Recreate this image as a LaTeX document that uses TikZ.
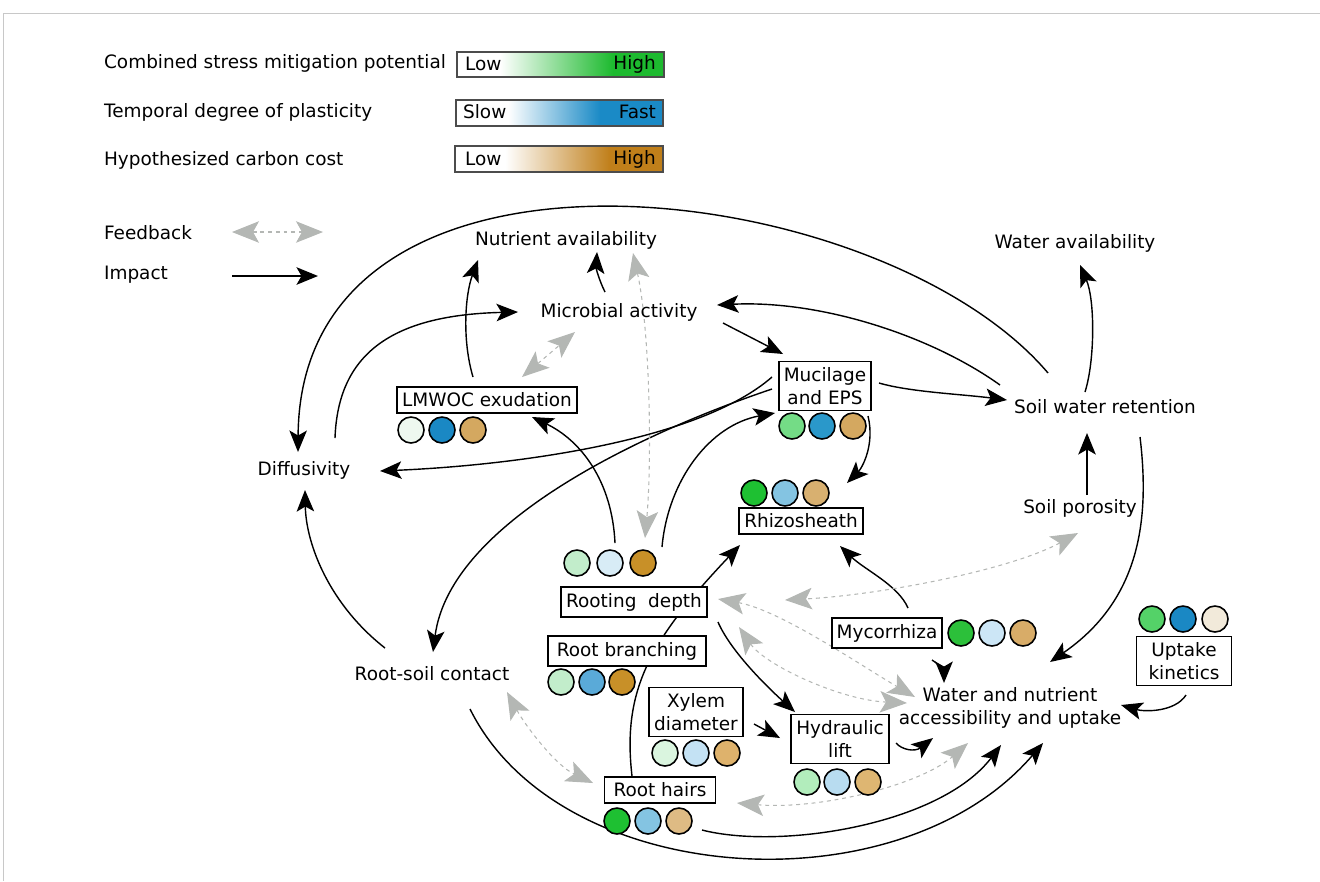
\documentclass[tikz,border=0pt]{standalone}
\usepackage{fontspec}
\setmainfont{DejaVu Sans}
\usetikzlibrary{arrows.meta,backgrounds}

\definecolor{barG}{HTML}{1DBA2F}
\definecolor{barB}{HTML}{1A8AC6}
\definecolor{barC}{HTML}{C07F1A}
\definecolor{fbgray}{HTML}{B4B7B4}
\definecolor{framegray}{HTML}{C8C8C8}

\tikzset{
  txt/.style={font=\fontsize{10.5}{12.8}\selectfont, inner sep=1pt, align=center},
  box/.style={txt, draw, line width=1pt, fill=white, inner xsep=2.8pt, inner ysep=3.5pt},
  dot/.style={circle, draw, line width=0.9pt, minimum size=5.2mm, inner sep=0pt},
  hx/.code={\definecolor{tmpfill}{HTML}{#1}\pgfkeysalso{fill=tmpfill}},
  imp/.style={line width=0.8pt, -{Stealth[length=4.3mm,width=3.5mm,inset=1mm]}},
  fbk/.style={draw=fbgray, line width=0.6pt, dash pattern=on 2.2pt off 2.2pt,
    {Stealth[length=5.4mm,width=4.3mm,inset=1.2mm,fbgray]}-{Stealth[length=5.4mm,width=4.3mm,inset=1.2mm,fbgray]}},
  barline/.style={draw=black!70, line width=0.6pt}
}

\begin{document}
\begin{tikzpicture}[x=0.2mm, y=-0.2mm]
\useasboundingbox (0,0) rectangle (1320,881);

%% frame
\draw[framegray, line width=0.5pt] (3,881) -- (3,13) -- (1320,13);

%% legend: colour bars
\fill[white] (457,52) rectangle (500,77);
\shade[left color=white, right color=barG] (500,52) rectangle (613,77);
\fill[barG] (613,52) rectangle (664,77);
\draw[barline] (457,52) rectangle (664,77);
\fill[white] (456,100) rectangle (508,126);
\shade[left color=white, right color=barB] (508,100) rectangle (600,126);
\fill[barB] (600,100) rectangle (663,126);
\draw[barline] (456,100) rectangle (663,126);
\fill[white] (455,146) rectangle (505,172);
\shade[left color=white, right color=barC] (505,146) rectangle (610,172);
\fill[barC] (610,146) rectangle (663,172);
\draw[barline] (455,146) rectangle (663,172);

%% legend: texts
\node[txt, anchor=west] (legG) at (102,63) {Combined stress mitigation potential};
\node[txt, anchor=west] (legB) at (102,112) {Temporal degree of plasticity};
\node[txt, anchor=west] (legC) at (102,160) {Hypothesized carbon cost};
\node[txt, anchor=west] (lowG) at (463,64) {Low};
\node[txt, anchor=east] (highG) at (658,64) {High};
\node[txt, anchor=west] (slowB) at (461,112) {Slow};
\node[txt, anchor=east] (fastB) at (658,112) {Fast};
\node[txt, anchor=west] (lowC) at (463,159) {Low};
\node[txt, anchor=east] (highC) at (658,159) {High};
\node[txt, anchor=west] (legF) at (102,233) {Feedback};
\node[txt, anchor=west] (legI) at (102,275) {Impact};
\coordinate (fbL) at (232,232);
\coordinate (fbR) at (323,232);
\coordinate (imL) at (232,276);
\coordinate (imR) at (318,276);

%% plain labels
\node[txt] (nut) at (566,240) {Nutrient availability};
\node[txt] (mic) at (619,312) {Microbial activity};
\node[txt] (wat) at (1075,243) {Water availability};
\node[txt] (swr) at (1105,407) {Soil water retention};
\node[txt] (dif) at (304,470) {Diffusivity};
\node[txt] (por) at (1080,508) {Soil porosity};
\node[txt] (rsc) at (432,674) {Root-soil contact};
\node[txt] (wnu) at (1010,708) {Water and nutrient\\accessibility and uptake};

%% boxed traits
\node[box] (lmw) at (487,400) {LMWOC exudation};
\node[box] (muc) at (825,386) {Mucilage\\and EPS};
\node[box] (rhz) at (801,521) {Rhizosheath};
\node[box] (rtd) at (634,602) {Rooting~ depth};
\node[box, minimum width=31.6mm] (rbr) at (627,651) {Root branching};
\node[box] (xyl) at (696,712) {Xylem\\diameter};
\node[box] (hyd) at (840,739) {Hydraulic\\lift};
\node[box, minimum width=22.2mm] (rhr) at (660,790) {Root hairs};
\node[box] (myc) at (887,633) {Mycorrhiza};
\node[box, minimum width=19mm] (upt) at (1184,661) {Uptake\\kinetics};

%% trait scores (mitigation, plasticity, cost)
\node[dot, hx=EEF8EF] (lmwA) at (411,430) {};
\node[dot, hx=1A88C4] (lmwB) at (442,430) {};
\node[dot, hx=D4A860] (lmwC) at (473,430) {};
\node[dot, hx=74DC86] (mucA) at (792,426) {};
\node[dot, hx=2A98CA] (mucB) at (822,426) {};
\node[dot, hx=D4A860] (mucC) at (853,426) {};
\node[dot, hx=1EC032] (rhzA) at (754,493) {};
\node[dot, hx=84C4E2] (rhzB) at (785,493) {};
\node[dot, hx=D8B070] (rhzC) at (816,493) {};
\node[dot, hx=C2EDCB] (rtdA) at (577,563) {};
\node[dot, hx=D8ECF6] (rtdB) at (610,563) {};
\node[dot, hx=C89028] (rtdC) at (643,563) {};
\node[dot, hx=C2EDCB] (rbrA) at (561,682) {};
\node[dot, hx=5AAAD8] (rbrB) at (592,682) {};
\node[dot, hx=C89028] (rbrC) at (622,682) {};
\node[dot, hx=DAF5DF] (xylA) at (665,753) {};
\node[dot, hx=C4E2F4] (xylB) at (696,753) {};
\node[dot, hx=DEB26C] (xylC) at (727,753) {};
\node[dot, hx=B2EDBC] (hydA) at (807,782) {};
\node[dot, hx=B8DCF0] (hydB) at (837,782) {};
\node[dot, hx=DEB672] (hydC) at (868,782) {};
\node[dot, hx=1EC032] (rhrA) at (617,821) {};
\node[dot, hx=84C4E2] (rhrB) at (648,821) {};
\node[dot, hx=DEBB84] (rhrC) at (679,821) {};
\node[dot, hx=2CC03A] (mycA) at (961,633) {};
\node[dot, hx=CCE6F6] (mycB) at (992,633) {};
\node[dot, hx=D8AC68] (mycC) at (1023,633) {};
\node[dot, hx=54D268] (uptA) at (1152,619) {};
\node[dot, hx=1A88C4] (uptB) at (1183,619) {};
\node[dot, hx=F2EADA] (uptC) at (1215,619) {};

\begin{scope}[on background layer]
%% legend arrows
\draw[fbk] (fbL) -- (fbR);
\draw[imp] (imL) -- (imR);

%% impacts
\draw[imp] ([shift={(-57,-34)}]swr.center) .. controls (880,175) and (300,105) .. ([shift={(-6,-18)}]dif.center);   %% swr dif
\draw[imp] ([shift={(-105,-22)}]swr.center) .. controls (930,335) and (820,300) .. ([shift={(98,-7)}]mic.center);  %% swr mic
\draw[imp] ([shift={(104,11)}]mic.center) -- ([shift={(-42,-32)}]muc.center);                                      %% mic muc
\draw[imp] ([shift={(54,-3)}]muc.center) .. controls (910,392) and (960,394) .. ([shift={(-98,-7)}]swr.center);    %% muc swr
\draw[imp] ([shift={(-20,-15)}]swr.center) .. controls (1095,360) and (1095,300) .. ([shift={(5,22)}]wat.center);  %% swr wat
\draw[imp] ([shift={(31,-32)}]dif.center) .. controls (338,355) and (390,315) .. ([shift={(-101,0)}]mic.center);   %% dif mic
\draw[imp] ([shift={(-14,-23)}]lmw.center) .. controls (462,340) and (465,295) .. ([shift={(-88,20)}]nut.center);  %% lmw nut
\draw[imp] ([shift={(-14,-20)}]mic.center) .. controls (599,280) and (596,268) .. ([shift={(31,12)}]nut.center);   %% mic nut
\draw[imp] ([shift={(-53,-9)}]muc.center) .. controls (700,440) and (520,465) .. ([shift={(76,1)}]dif.center);     %% muc dif
\draw[imp] ([shift={(-53,3)}]muc.center) .. controls (650,430) and (450,520) .. ([shift={(1,-22)}]rsc.center);     %% muc rsc
\draw[imp] ([shift={(28,-55)}]rtd.center) .. controls (668,480) and (710,425) .. ([shift={(-50,27)}]muc.center);   %% rtd muc
\draw[imp] ([shift={(-19,-59)}]rtd.center) .. controls (612,480) and (580,440) .. ([shift={(45,17)}]lmw.center);   %% rtd lmw
\draw[imp] ([shift={(43,30)}]muc.center) .. controls (875,445) and (862,468) .. ([shift={(46,-38)}]rhz.center);    %% muc rhz
\draw[imp] ([shift={(-28,-14)}]rhr.center) .. controls (622,690) and (650,640) .. ([shift={(-61,24)}]rhz.center);  %% rhr rhz
\draw[imp] ([shift={(84,20)}]rtd.center) .. controls (730,650) and (765,685) .. ([shift={(-45,-27)}]hyd.center);   %% rtd hyd
\draw[imp] ([shift={(58,12)}]xyl.center) -- ([shift={(-60,-1)}]hyd.center);                                       %% xyl hyd
\draw[imp] ([shift={(56,4)}]hyd.center) .. controls (902,750) and (915,752) .. ([shift={(-77,30)}]wnu.center);     %% hyd wnu
\draw[imp] ([shift={(45,27)}]myc.center) .. controls (940,665) and (944,672) .. ([shift={(-66,-25)}]wnu.center);   %% myc wnu
\draw[imp] ([shift={(21,-25)}]myc.center) .. controls (898,585) and (865,570) .. ([shift={(39,25)}]rhz.center);    %% myc rhz
\draw[imp] ([shift={(35,30)}]swr.center) .. controls (1150,520) and (1140,600) .. ([shift={(40,-46)}]wnu.center);  %% swr wnu
\draw[imp] ([shift={(2,34)}]upt.center) .. controls (1175,712) and (1145,712) .. ([shift={(111,-3)}]wnu.center);   %% upt wnu
\draw[imp] ([shift={(7,-13)}]por.center) -- ([shift={(-18,26)}]swr.center);                                       %% por swr
\draw[imp] ([shift={(42,40)}]rhr.center) .. controls (780,850) and (940,825) .. ([shift={(-9,37)}]wnu.center);     %% rhr wnu
\draw[imp] ([shift={(38,35)}]rsc.center) .. controls (560,890) and (900,910) .. ([shift={(33,35)}]wnu.center);     %% rsc wnu
\draw[imp] ([shift={(-47,-26)}]rsc.center) .. controls (330,605) and (306,545) .. ([shift={(1,20)}]dif.center);    %% rsc dif

%% feedbacks
\draw[fbk] ([shift={(35,-23)}]lmw.center) -- ([shift={(-44,20)}]mic.center);                                       %% lmw mic
\draw[fbk] ([shift={(67,13)}]nut.center) .. controls (650,330) and (652,460) .. ([shift={(11,-64)}]rtd.center);     %% nut rtd
\draw[fbk] ([shift={(75,18)}]rsc.center) .. controls (525,725) and (555,765) .. ([shift={(-67,-7)}]rhr.center);     %% rsc rhr
\draw[fbk] ([shift={(-2,25)}]por.center) .. controls (1010,570) and (880,595) .. ([shift={(151,-2)}]rtd.center);    %% por rtd
\draw[fbk] ([shift={(84,-3)}]rtd.center) .. controls (780,610) and (860,665) .. ([shift={(-95,-11)}]wnu.center);    %% rtd wnu
\draw[fbk] ([shift={(105,25)}]rtd.center) .. controls (765,665) and (840,700) .. ([shift={(-103,-5)}]wnu.center);   %% rtd wnu
\draw[fbk] ([shift={(77,13)}]rhr.center) .. controls (820,810) and (920,785) .. ([shift={(-42,35)}]wnu.center);     %% rhr wnu
\end{scope}

\end{tikzpicture}
\end{document}
